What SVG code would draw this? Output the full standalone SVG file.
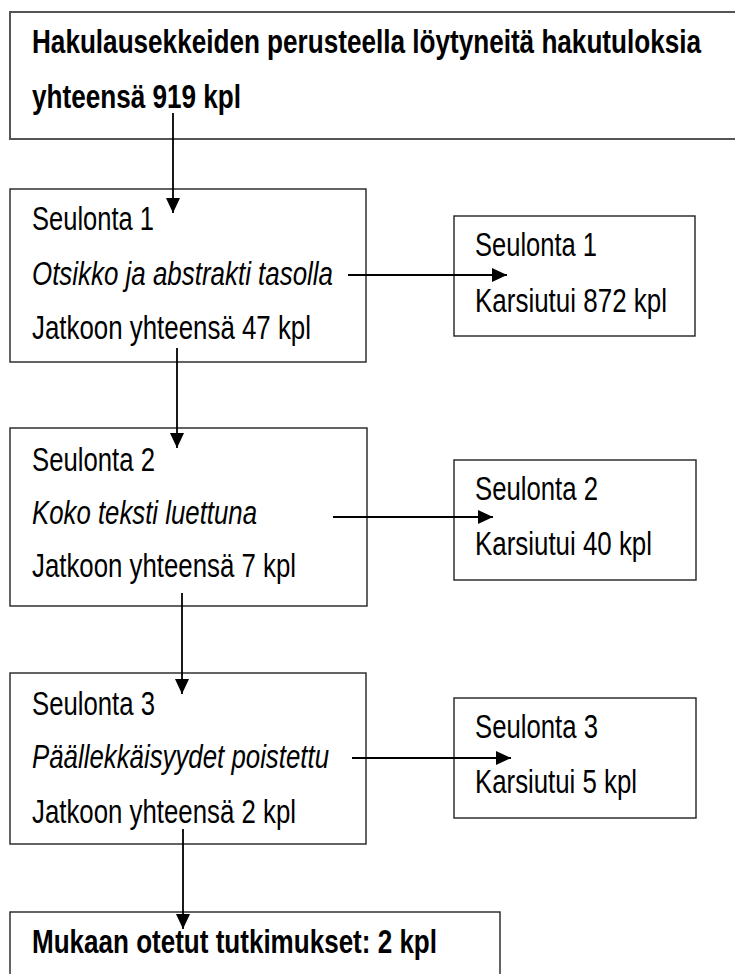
<svg xmlns="http://www.w3.org/2000/svg" width="735" height="974" viewBox="0 0 735 974">
<style>
.box{fill:#fff;stroke:#222;stroke-width:1.4}
.topbox{fill:#fff;stroke:#555;stroke-width:2}
text{font-family:'Liberation Sans Narrow','Liberation Sans',Arial,sans-serif;font-size:32.5px;fill:#000}
.b{font-weight:bold}
.i{font-style:italic}
.conn{stroke:#000;stroke-width:1.8;fill:none;marker-end:url(#ah)}
</style>
<defs>
<marker id="ah" markerUnits="userSpaceOnUse" markerWidth="16" markerHeight="16" viewBox="0 0 16 16" refX="15" refY="8" orient="auto">
<path d="M0,1 L15,8 L0,15 Z" fill="#000"/>
</marker>
</defs>
<g id="n-total">
<rect class="topbox" x="10" y="12" width="740" height="127"/>
<text class="b" x="32" y="53" textLength="669" lengthAdjust="spacingAndGlyphs">Hakulausekkeiden perusteella löytyneitä hakutuloksia</text>
<text class="b" x="32" y="108" textLength="209" lengthAdjust="spacingAndGlyphs">yhteensä 919 kpl</text>
</g>
<g id="n-s1">
<rect class="box" x="10" y="189" width="356" height="173"/>
<text x="32" y="230" textLength="122" lengthAdjust="spacingAndGlyphs">Seulonta 1</text>
<text class="i" x="32" y="285" textLength="301" lengthAdjust="spacingAndGlyphs">Otsikko ja abstrakti tasolla</text>
<text x="32" y="339" textLength="279" lengthAdjust="spacingAndGlyphs">Jatkoon yhteensä 47 kpl</text>
</g>
<g id="n-r1">
<rect class="box" x="454" y="216" width="241" height="120"/>
<text x="475" y="256" textLength="122" lengthAdjust="spacingAndGlyphs">Seulonta 1</text>
<text x="475" y="312" textLength="192" lengthAdjust="spacingAndGlyphs">Karsiutui 872 kpl</text>
</g>
<g id="n-s2">
<rect class="box" x="10" y="428" width="357" height="178"/>
<text x="32" y="471" textLength="123" lengthAdjust="spacingAndGlyphs">Seulonta 2</text>
<text class="i" x="32" y="524" textLength="225" lengthAdjust="spacingAndGlyphs">Koko teksti luettuna</text>
<text x="32" y="577" textLength="264" lengthAdjust="spacingAndGlyphs">Jatkoon yhteensä 7 kpl</text>
</g>
<g id="n-r2">
<rect class="box" x="454" y="460" width="242" height="120"/>
<text x="475" y="500" textLength="123" lengthAdjust="spacingAndGlyphs">Seulonta 2</text>
<text x="475" y="555" textLength="177" lengthAdjust="spacingAndGlyphs">Karsiutui 40 kpl</text>
</g>
<g id="n-s3">
<rect class="box" x="10" y="673" width="356" height="171"/>
<text x="32" y="715" textLength="123" lengthAdjust="spacingAndGlyphs">Seulonta 3</text>
<text class="i" x="32" y="768" textLength="297" lengthAdjust="spacingAndGlyphs">Päällekkäisyydet poistettu</text>
<text x="32" y="823" textLength="264" lengthAdjust="spacingAndGlyphs">Jatkoon yhteensä 2 kpl</text>
</g>
<g id="n-r3">
<rect class="box" x="454" y="698" width="242" height="120"/>
<text x="475" y="738" textLength="123" lengthAdjust="spacingAndGlyphs">Seulonta 3</text>
<text x="475" y="793" textLength="162" lengthAdjust="spacingAndGlyphs">Karsiutui 5 kpl</text>
</g>
<g id="n-final">
<rect class="box" x="10" y="912" width="490" height="80"/>
<text class="b" x="32" y="953" textLength="405" lengthAdjust="spacingAndGlyphs">Mukaan otetut tutkimukset: 2 kpl</text>
</g>
<g id="connectors">
<line class="conn" x1="173" y1="113" x2="173" y2="213"/>
<line class="conn" x1="177" y1="348" x2="177" y2="448"/>
<line class="conn" x1="182" y1="593" x2="182" y2="694"/>
<line class="conn" x1="183" y1="829" x2="183" y2="929"/>
<line class="conn" x1="348" y1="275" x2="507" y2="275"/>
<line class="conn" x1="333" y1="517" x2="493" y2="517"/>
<line class="conn" x1="352" y1="758" x2="511" y2="758"/>
</g>
</svg>
